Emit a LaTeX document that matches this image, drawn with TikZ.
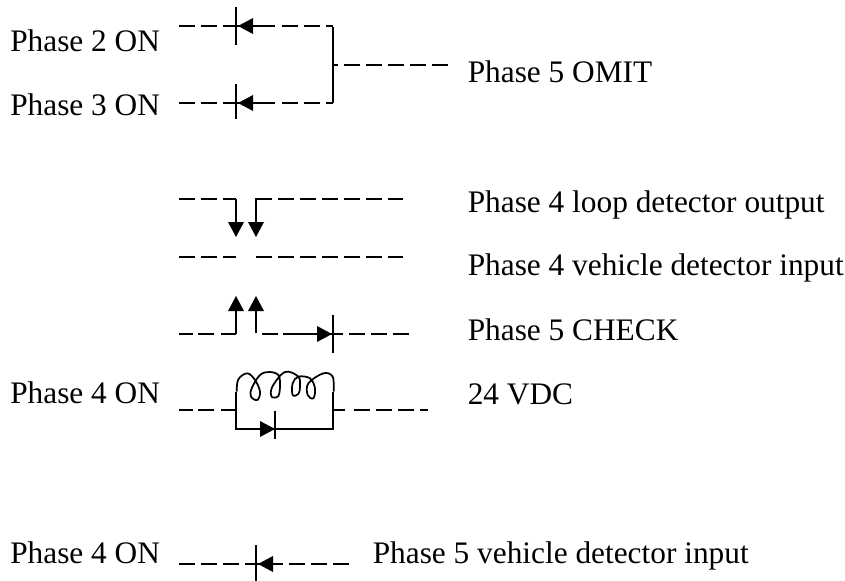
\documentclass[tikz,border=0pt]{standalone}
\usepackage{fontspec}
\setmainfont{Liberation Serif}
\tikzset{
  x=0.75pt,y=-0.75pt,
  wire/.style={line width=1.3pt,black},
  dashwire/.style={wire,dash pattern=on 12pt off 4.5pt},
  tick/.style={line width=0.9pt,black},
  tip/.style={fill=black,draw=none},
  lbl/.style={anchor=base west,inner sep=0pt,font=\fontsize{23.5}{26}\selectfont},
}
\newcommand{\tipleft}[2]{\fill[tip] (#1,#2) -- ++(15,-8) -- ++(0,16) -- cycle;}
\newcommand{\tipright}[2]{\fill[tip] (#1,#2) -- ++(-15,-8) -- ++(0,16) -- cycle;}
\newcommand{\tipdown}[2]{\fill[tip] (#1,#2) -- ++(-8,-15) -- ++(16,0) -- cycle;}
\newcommand{\tipup}[2]{\fill[tip] (#1,#2) -- ++(-8,15) -- ++(16,0) -- cycle;}
\begin{document}
\begin{tikzpicture}
\useasboundingbox (0,0) rectangle (845,581);
% labels
\node[lbl] (p2on) at (10,52) {Phase 2 ON};
\node[lbl] (p3on) at (10,116) {Phase 3 ON};
\node[lbl] (p5omit) at (467.5,83) {Phase 5 OMIT};
\node[lbl] (p4loop) at (467.5,212) {Phase 4 loop detector output};
\node[lbl] (p4veh) at (467.5,275) {Phase 4 vehicle detector input};
\node[lbl] (p5chk) at (467.5,340) {Phase 5 CHECK};
\node[lbl] (p4on) at (10,403) {Phase 4 ON};
\node[lbl] (vdc) at (467.5,404) {24 VDC};
\node[lbl] (p4onb) at (10,563) {Phase 4 ON};
\node[lbl] (p5veh) at (372.5,563) {Phase 5 vehicle detector input};
% top group
\coordinate (a1) at (179,26); \coordinate (a2) at (236,26); \coordinate (a3) at (275,26); \coordinate (a4) at (333,26);
\coordinate (b1) at (179,103); \coordinate (b2) at (236,103); \coordinate (b3) at (275,103); \coordinate (b4) at (333,103);
\draw[dashwire] (a1) -- (a2);
\draw[dashwire] (b1) -- (b2);
\draw[wire] (a2) -- (a3);
\draw[wire] (b2) -- (b3);
\draw[wire,dash pattern=on 0pt off 5pt on 12pt off 4.5pt on 12pt off 5pt on 6pt off 10pt] (a3) -- (a4);
\draw[wire,dash pattern=on 0pt off 5pt on 12pt off 4.5pt on 12pt off 5pt on 6pt off 10pt] (b3) -- (b4);
\draw[tick] (236,7) -- (236,45);
\draw[tick] (236,84) -- (236,119);
\tipleft{238}{26}
\tipleft{238}{103}
\draw[wire] (333,27) -- (333,103);
\coordinate (c1) at (333,65); \coordinate (c2) at (338,65); \coordinate (c3) at (344,65); \coordinate (c4) at (448,65);
\draw[wire] (c1) -- (c2);
\draw[dashwire] (c3) -- (c4);
% loop output
\coordinate (d1) at (179,199); \coordinate (d2) at (236,199); \coordinate (d3) at (236,225);
\coordinate (e1) at (256,225); \coordinate (e2) at (256,199); \coordinate (e3) at (272,199); \coordinate (e4) at (278,199); \coordinate (e5) at (403,199);
\draw[dashwire] (d1) -- (d2);
\draw[wire] (d2) -- (d3);
\draw[wire] (e1) -- (e2) -- (e3);
\draw[dashwire] (e4) -- (e5);
\tipdown{236}{237}
\tipdown{256}{237}
% vehicle input
\coordinate (f1) at (179,257); \coordinate (f2) at (236,257); \coordinate (f3) at (256,257); \coordinate (f4) at (403,257);
\draw[dashwire] (f1) -- (f2);
\draw[dashwire] (f3) -- (f4);
% check
\coordinate (g1) at (179,334); \coordinate (g2) at (236,334); \coordinate (g3) at (236,308);
\coordinate (h1) at (256,308); \coordinate (h2) at (256,333);
\coordinate (k1) at (262,334); \coordinate (k2) at (278,334); \coordinate (k3) at (283,334); \coordinate (k5) at (343,334); \coordinate (k6) at (349,334); \coordinate (k7) at (409,334);
\draw[wire,dash pattern=on 10.5pt off 4pt on 12pt off 5pt on 12pt off 5pt] (g1) -- (g2);
\draw[wire] (g2) -- (g3);
\draw[wire] (h1) -- (h2);
\draw[wire] (k1) -- (k2);
\draw[wire] (k3) -- (k5);
\draw[dashwire] (k6) -- (k7);
\draw[tick] (333,315) -- (333,353);
\tipup{236}{296}
\tipup{256}{296}
\tipright{332}{334}
% coil
\coordinate (m1) at (179,410); \coordinate (m2) at (236,410); \coordinate (m3) at (236,429); \coordinate (m4) at (333,429); \coordinate (m5) at (333,410); \coordinate (m6) at (345,410); \coordinate (m7) at (354,410); \coordinate (m8) at (428,410);
\draw[wire,dash pattern=on 10.5pt off 4pt on 12pt off 5pt on 12pt off 5pt] (m1) -- (m2);
\draw[wire] (236,391.5) -- (m2) -- (m3) -- (m4) -- (m5) -- (333,391.5);
\draw[wire] (m5) -- (m6);
\draw[dashwire] (m7) -- (m8);
\draw[tick] (275,411) -- (275,439);
\tipright{275}{429}
\begin{scope}[shift={(170,320)},x=0.25pt,y=-0.25pt]
\draw[wire,line join=round] plot[smooth,tension=0.6] coordinates {(200,215) (205,178) (232,160) (255,180) (270,215) (262,240) (243,230) (245,205) (270,165) (298,156) (325,165) (330,195) (325,228) (305,230) (307,200) (345,156) (385,170) (390,200) (385,222) (368,225) (368,190) (385,170) (420,175) (435,205) (430,235) (413,225) (415,190) (460,160) (488,170) (491,215)};
\end{scope}
% bottom
\coordinate (n1) at (179,564); \coordinate (n2) at (256,564); \coordinate (n3) at (283,564); \coordinate (n4) at (289,564); \coordinate (n5) at (349,564);
\draw[dashwire] (n1) -- (n2);
\draw[wire] (n2) -- (n3);
\draw[dashwire] (n4) -- (n5);
\draw[tick] (256,545) -- (256,581);
\tipleft{258}{564}
\end{tikzpicture}
\end{document}
